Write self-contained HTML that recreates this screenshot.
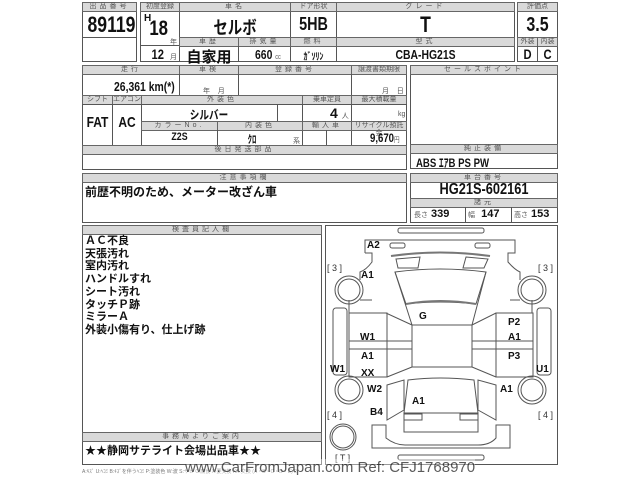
<!DOCTYPE html>
<html><head><meta charset="utf-8"><style>
body{margin:0;width:640px;height:480px;background:#fff;position:relative;overflow:hidden;font-family:"Liberation Sans","Noto Sans CJK JP",sans-serif;color:#111}
div{position:absolute;box-sizing:border-box}
.b{border:1px solid #555}
.h{background:#d9d9d9;border:1px solid #666;font-size:7px;color:#555;text-align:center;line-height:8px;letter-spacing:3px}
.v{font-weight:bold;text-align:center;white-space:nowrap}
.c{transform:scaleX(.8)}
.cl{transform:scaleX(.8);transform-origin:left center}
.s{font-size:7px;color:#555;font-weight:normal}
</style></head><body>
<!-- top row -->
<div class="b" style="left:82px;top:2px;width:55px;height:60px"></div>
<div class="h" style="left:82px;top:2px;width:55px;height:10px">出品番号</div>
<div style="left:82px;top:37px;width:55px;height:1px;background:#555"></div>
<div class="v c" style="left:82px;top:12px;width:55px;font-size:22px;line-height:25px">89119</div>

<div class="b" style="left:140px;top:2px;width:375px;height:60px"></div>
<div class="h" style="left:140px;top:2px;width:40px;height:10px;letter-spacing:0">初度登録</div>
<div class="h" style="left:179px;top:2px;width:112px;height:10px">車名</div>
<div class="h" style="left:290px;top:2px;width:47px;height:10px;letter-spacing:0">ドア形状</div>
<div class="h" style="left:336px;top:2px;width:179px;height:10px">グレード</div>
<div class="b" style="left:517px;top:2px;width:41px;height:60px"></div>
<div class="h" style="left:517px;top:2px;width:41px;height:10px;letter-spacing:0">評価点</div>
<div style="left:179px;top:12px;width:1px;height:50px;background:#555"></div>
<div style="left:290px;top:12px;width:1px;height:50px;background:#555"></div>
<div style="left:336px;top:12px;width:1px;height:50px;background:#555"></div>
<div style="left:140px;top:45px;width:40px;height:1px;background:#555"></div>
<div class="v" style="left:144px;top:13px;font-size:10px">H</div>
<div class="v c" style="left:147px;top:17px;font-size:21px">18</div>
<div class="s" style="left:170px;top:37px">年</div>
<div class="v c" style="left:150px;top:46px;font-size:14px">12</div>
<div class="s" style="left:170px;top:52px">月</div>
<div class="v c" style="left:179px;top:14px;width:112px;font-size:18px">セルボ</div>
<div class="v c" style="left:290px;top:14px;width:47px;font-size:18px">5HB</div>
<div class="v c" style="left:336px;top:12px;width:179px;font-size:22px">T</div>
<div class="h" style="left:179px;top:37px;width:60px;height:10px">車歴</div>
<div class="h" style="left:238px;top:37px;width:53px;height:10px">排気量</div>
<div class="h" style="left:290px;top:37px;width:47px;height:10px">燃料</div>
<div class="h" style="left:336px;top:37px;width:179px;height:10px">型式</div>
<div style="left:238px;top:46px;width:1px;height:16px;background:#555"></div>
<div class="v" style="left:179px;top:46px;width:60px;font-size:15px">自家用</div>
<div class="v cl" style="left:255px;top:47px;font-size:13px">660 <span class="s">cc</span></div>
<div class="v c" style="left:290px;top:48px;width:47px;font-size:10px">ｶﾞｿﾘﾝ</div>
<div class="v c" style="left:336px;top:47px;width:179px;font-size:13px">CBA-HG21S</div>
<div class="v c" style="left:517px;top:14px;width:41px;font-size:20px">3.5</div>
<div class="h" style="left:517px;top:37px;width:21px;height:10px;letter-spacing:0">外装</div>
<div class="h" style="left:537px;top:37px;width:21px;height:10px;letter-spacing:0">内装</div>
<div style="left:537px;top:46px;width:1px;height:16px;background:#555"></div>
<div class="v c" style="left:517px;top:46px;width:21px;font-size:14px">D</div>
<div class="v c" style="left:537px;top:46px;width:21px;font-size:14px">C</div>

<!-- second section -->
<div class="b" style="left:82px;top:65px;width:325px;height:105px"></div>
<div class="h" style="left:82px;top:65px;width:98px;height:10px">走行</div>
<div class="h" style="left:179px;top:65px;width:60px;height:10px">車検</div>
<div class="h" style="left:238px;top:65px;width:114px;height:10px">登録番号</div>
<div class="h" style="left:351px;top:65px;width:56px;height:10px;letter-spacing:0">譲渡書類期限</div>
<div style="left:179px;top:74px;width:1px;height:22px;background:#555"></div>
<div style="left:238px;top:74px;width:1px;height:22px;background:#555"></div>
<div style="left:351px;top:74px;width:1px;height:71px;background:#555"></div>
<div class="v cl" style="left:114px;top:79px;font-size:13px">26,361 km(*)</div>
<div class="s" style="left:203px;top:86px">年 &nbsp; &nbsp;月</div>
<div class="s" style="left:382px;top:86px">月 &nbsp; &nbsp;日</div>
<div class="h" style="left:82px;top:95px;width:31px;height:10px;letter-spacing:0">シフト</div>
<div class="h" style="left:112px;top:95px;width:30px;height:10px;letter-spacing:0">エアコン</div>
<div class="h" style="left:141px;top:95px;width:162px;height:10px">外装色</div>
<div class="h" style="left:302px;top:95px;width:50px;height:10px;letter-spacing:0">乗車定員</div>
<div class="h" style="left:351px;top:95px;width:56px;height:10px;letter-spacing:0">最大積載量</div>
<div style="left:112px;top:104px;width:1px;height:41px;background:#555"></div>
<div style="left:141px;top:104px;width:1px;height:41px;background:#555"></div>
<div style="left:277px;top:104px;width:1px;height:17px;background:#555"></div>
<div style="left:302px;top:104px;width:1px;height:41px;background:#555"></div>
<div class="v c" style="left:82px;top:114px;width:31px;font-size:15px">FAT</div>
<div class="v c" style="left:112px;top:114px;width:30px;font-size:15px">AC</div>
<div class="v c" style="left:141px;top:106px;width:136px;font-size:12px">シルバー</div>
<div class="v" style="left:330px;top:105px;font-size:14px">4 <span class="s">人</span></div>
<div class="s" style="left:398px;top:111px">kg</div>
<div class="h" style="left:141px;top:121px;width:77px;height:10px">カラーNo.</div>
<div class="h" style="left:217px;top:121px;width:86px;height:10px">内装色</div>
<div class="h" style="left:302px;top:121px;width:50px;height:10px">輸入車</div>
<div class="h" style="left:351px;top:121px;width:56px;height:10px;letter-spacing:0">リサイクル預託金</div>
<div style="left:217px;top:130px;width:1px;height:15px;background:#555"></div>
<div style="left:326px;top:130px;width:1px;height:15px;background:#555"></div>
<div class="v c" style="left:141px;top:131px;width:77px;font-size:11px">Z2S</div>
<div class="v c" style="left:217px;top:131px;width:70px;font-size:11px">ｸﾛ</div>
<div class="s" style="left:293px;top:136px">系</div>
<div class="v cl" style="left:370px;top:131px;font-size:12px;line-height:14px">9,670<span class="s">円</span></div>
<div style="left:82px;top:104px;width:325px;height:1px;background:#555"></div>
<div class="h" style="left:82px;top:145px;width:325px;height:10px">後日発送部品</div>

<div class="b" style="left:410px;top:65px;width:148px;height:104px"></div>
<div class="h" style="left:410px;top:65px;width:148px;height:10px">セールスポイント</div>
<div class="h" style="left:410px;top:144px;width:148px;height:10px">純正装備</div>
<div class="v cl" style="left:416px;top:154px;font-size:12px">ABS ｴｱB PS PW</div>

<!-- notes -->
<div class="b" style="left:82px;top:173px;width:325px;height:50px"></div>
<div class="h" style="left:82px;top:173px;width:325px;height:10px">注意事項欄</div>
<div class="v" style="left:85px;top:183px;font-size:12px">前歴不明のため、メーター改ざん車</div>

<div class="b" style="left:410px;top:173px;width:148px;height:50px"></div>
<div class="h" style="left:410px;top:173px;width:148px;height:10px">車台番号</div>
<div class="v c" style="left:410px;top:181px;width:148px;font-size:16px">HG21S-602161</div>
<div class="h" style="left:410px;top:198px;width:148px;height:10px">諸元</div>
<div style="left:465px;top:207px;width:1px;height:16px;background:#555"></div>
<div style="left:511px;top:207px;width:1px;height:16px;background:#555"></div>
<div class="v" style="left:414px;top:208px;font-size:11px"><span class="s">長さ</span> 339</div>
<div class="v" style="left:468px;top:208px;font-size:11px"><span class="s">幅</span> &nbsp;147</div>
<div class="v" style="left:514px;top:208px;font-size:11px"><span class="s">高さ</span> 153</div>

<!-- inspector -->
<div class="b" style="left:82px;top:225px;width:240px;height:240px"></div>
<div class="h" style="left:82px;top:225px;width:240px;height:10px">検査員記入欄</div>
<div class="v" style="left:85px;top:235px;font-size:11px;line-height:12.7px;text-align:left">ＡＣ不良<br>天張汚れ<br>室内汚れ<br>ハンドルすれ<br>シート汚れ<br>タッチＰ跡<br>ミラーＡ<br>外装小傷有り、仕上げ跡</div>
<div class="h" style="left:82px;top:432px;width:240px;height:10px">事務局よりご案内</div>
<div class="v" style="left:85px;top:442px;font-size:11px">★★静岡サテライト会場出品車★★</div>

<!-- diagram -->
<div class="b" style="left:325px;top:225px;width:233px;height:240px"></div>
<svg style="position:absolute;left:0;top:0" width="640" height="480" fill="none" stroke="#555" stroke-width="1">
<rect x="398" y="228" width="86" height="5" rx="2"/>
<rect x="398" y="455" width="86" height="5" rx="2"/>
<path d="M365 253 V240 H515 V253 H508 V262 Q515 270 520 272 V280"/>
<path d="M365 253 H372 V262 Q366 270 360 272 V280"/>
<rect x="390" y="243" width="15" height="5" rx="2"/><rect x="475" y="243" width="15" height="5" rx="2"/>
<path d="M391 256 Q440 249 490 256" stroke-width="2" stroke="#777"/>
<path d="M396 259 L420 257 L418 268 L398 268 Z M466 257 L488 259 L484 268 L463 268 Z"/>
<path d="M395 272 Q440 266 486 272 L476 304 Q440 300 406 304 Z"/>
<path d="M406 304 Q440 298 476 304" stroke-width="2" stroke="#777"/>
<path d="M395 272 L412 325 M486 272 L472 325"/>
<path d="M349 300 V313 H386 L412 325 M532 300 V313 H496 L472 325"/>
<rect x="412" y="325" width="60" height="42"/>
<rect x="349" y="313" width="38" height="64"/>
<rect x="496" y="313" width="37" height="64"/>
<path d="M349 341 H412 M349 349 H412 M472 341 H533 M472 349 H533"/>
<path d="M387 377 L412 367 M496 377 L472 367"/>
<rect x="333" y="308" width="14" height="67" rx="3"/>
<rect x="537" y="308" width="14" height="67" rx="3"/>
<circle cx="349" cy="290" r="14"/><circle cx="349" cy="290" r="11"/>
<circle cx="532" cy="290" r="14"/><circle cx="532" cy="290" r="11"/>
<circle cx="349" cy="390" r="14"/><circle cx="349" cy="390" r="11"/>
<circle cx="532" cy="390" r="14"/><circle cx="532" cy="390" r="11"/>
<circle cx="343" cy="437" r="13"/><circle cx="343" cy="437" r="11"/>
<path d="M408 380 Q440 376 474 380 L478 413 H404 Z"/>
<path d="M404 413 V432 H478 V413"/>
<rect x="404" y="414" width="18" height="6"/><rect x="460" y="414" width="18" height="6"/>
<path d="M387 385 L404 380 V410 L387 420 Z M496 385 L478 380 V410 L496 420 Z"/>
<path d="M372 425 H386 V438 Q395 445 405 445 H478 Q490 445 496 438 V425 H510 V448 H372 Z"/>
<path d="M360 300 H372 M520 300 H510"/>
</svg>
<div class="v" style="left:325px;top:225px;width:233px;height:240px;font-size:10px">
<div style="left:42px;top:15px">A2</div>
<div class="s" style="left:2px;top:38px;font-size:9px;color:#333">[ 3 ]</div>
<div class="s" style="left:213px;top:38px;font-size:9px;color:#333">[ 3 ]</div>
<div style="left:36px;top:45px">A1</div>
<div style="left:94px;top:86px">G</div>
<div style="left:183px;top:92px">P2</div>
<div style="left:35px;top:107px">W1</div>
<div style="left:183px;top:107px">A1</div>
<div style="left:36px;top:126px">A1</div>
<div style="left:183px;top:126px">P3</div>
<div style="left:5px;top:139px">W1</div>
<div style="left:211px;top:139px">U1</div>
<div style="left:36px;top:143px">XX</div>
<div style="left:42px;top:159px">W2</div>
<div style="left:175px;top:159px">A1</div>
<div style="left:87px;top:171px">A1</div>
<div style="left:45px;top:182px">B4</div>
<div class="s" style="left:2px;top:185px;font-size:9px;color:#333">[ 4 ]</div>
<div class="s" style="left:213px;top:185px;font-size:9px;color:#333">[ 4 ]</div>
<div class="s" style="left:10px;top:228px;font-size:9px;color:#333">[ T ]</div>
</div>
<div style="left:82px;top:468px;font-size:5px;color:#777;white-space:nowrap">A:ｷｽﾞ U:ﾍｺﾐ B:ｷｽﾞを伴うﾍｺﾐ P:塗装色 W:波 S:サビ C:腐食 X:要交換 XX:交換 (A・B・C・D・E) 2</div>
<div style="left:185px;top:459px;font-size:15px;color:#333;opacity:.8;white-space:nowrap;background:rgba(255,255,255,.5);line-height:18px">www.CarFromJapan.com Ref: CFJ1768970</div>
</body></html>
